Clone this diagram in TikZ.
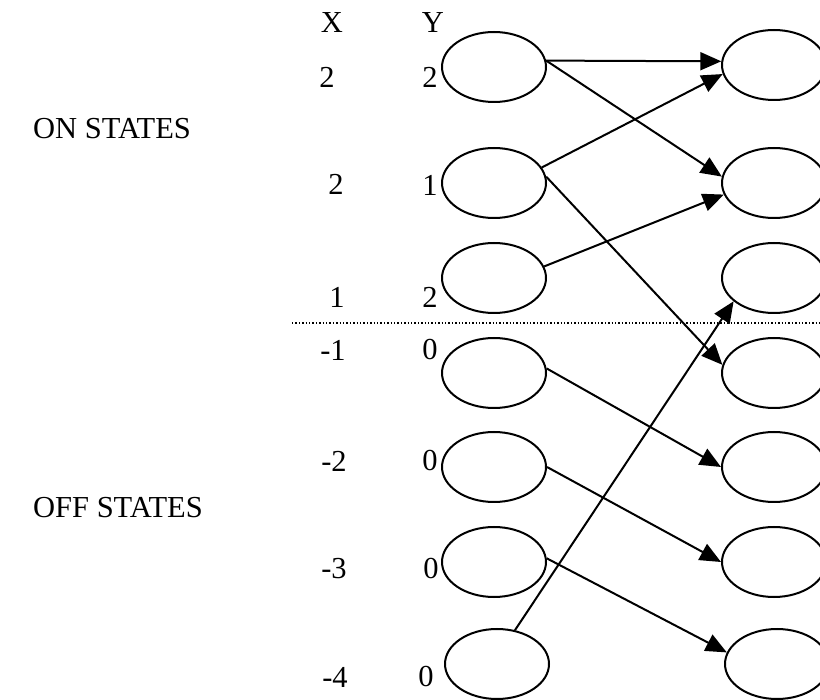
\documentclass[tikz,border=0pt]{standalone}
\usepackage{fontspec}
\setmainfont{Liberation Serif}
\usetikzlibrary{shapes.geometric,arrows.meta}
\tikzset{
  state/.style={draw, ellipse, line width=2pt, minimum width=104pt, minimum height=70pt, inner sep=0pt},
  lbl/.style={inner sep=0pt, font=\fontsize{30.5}{36}\selectfont},
  conn/.style={line width=2pt, -{Triangle[length=21pt,width=18pt]}},
  sep/.style={line width=1.4pt, dotted}
}
\begin{document}
\begin{tikzpicture}[x=1pt,y=-1pt]
\useasboundingbox (0,0) rectangle (820,700);
\clip (0,0) rectangle (820,700);
% column heads
\node[lbl] (hx) at (332,23) {X};
\node[lbl] (hy) at (433,23) {Y};
% row labels
\node[lbl] (x1) at (327,77) {2};  \node[lbl] (y1) at (430,77) {2};
\node[lbl] (x2) at (336,184) {2}; \node[lbl] (y2) at (430,185) {1};
\node[lbl] (x3) at (337,297) {1}; \node[lbl] (y3) at (430,297) {2};
\node[lbl] (x4) at (333,350) {-1}; \node[lbl] (y4) at (430,350) {0};
\node[lbl] (x5) at (334,461) {-2}; \node[lbl] (y5) at (430,461) {0};
\node[lbl] (x6) at (334,569) {-3}; \node[lbl] (y6) at (431,569) {0};
\node[lbl] (x7) at (335,677) {-4}; \node[lbl] (y7) at (426,677) {0};
% group labels
\node[lbl, anchor=west] (on) at (33,129) {ON STATES};
\node[lbl, anchor=west] (off) at (33,508) {OFF STATES};
% separator
\coordinate (s1) at (292,323);
\coordinate (s2) at (820,323);
\draw[sep] (s1) -- (s2);
% left states
\node[state] (L1) at (494,67) {};
\node[state] (L2) at (494,183) {};
\node[state] (L3) at (494,278) {};
\node[state] (L4) at (494,373) {};
\node[state] (L5) at (494,467) {};
\node[state] (L6) at (494,562) {};
\node[state] (L7) at (497,664) {};
% right states
\node[state] (R1) at (774,65) {};
\node[state] (R2) at (774,183) {};
\node[state] (R3) at (774,278) {};
\node[state] (R4) at (774,373) {};
\node[state] (R5) at (774,467) {};
\node[state] (R6) at (774,562) {};
\node[state] (R7) at (777,664) {};
% transitions
\draw[conn] (L1.7) -- (R1.176);
\draw[conn] (L1.7) -- (R2.173);
\draw[conn] (L2.18) -- (R1.190);
\draw[conn] (L2.7) -- (R4.171);
\draw[conn] (L3.13) -- (R2.193);
\draw[conn] (L7.62) -- (R3.210);
\draw[conn] (L4.5) -- (R5.180);
\draw[conn] (L5.0) -- (R6.180);
\draw[conn] (L6.4) -- (R7.167);
\end{tikzpicture}
\end{document}
